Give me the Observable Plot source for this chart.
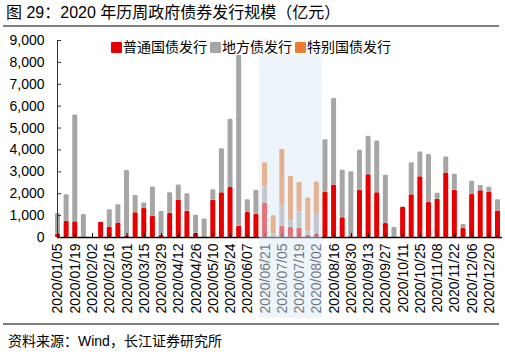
<!DOCTYPE html>
<html><head><meta charset="utf-8">
<script src="https://cdn.jsdelivr.net/npm/d3@7"></script>
<script src="https://cdn.jsdelivr.net/npm/@observablehq/plot@0.6"></script>
<style>
body{margin:0;background:#fff;}
#wrap{position:relative;width:505px;height:363px;overflow:hidden;background:#fff;font-family:"Liberation Sans",Arial,"Noto Sans CJK SC",sans-serif;color:#000;}
#title{position:absolute;left:6px;top:3px;font-size:16px;line-height:20px;white-space:nowrap;}
.rule{position:absolute;left:3px;width:496px;height:2px;background:#7f7f7f;}
#chart{position:absolute;left:0;top:30px;}
#legend{position:absolute;left:111px;top:39px;display:flex;align-items:center;font-size:14px;line-height:16px;white-space:nowrap;}
#legend .item{display:flex;align-items:center;margin-right:3px;}
#legend .sw{width:11px;height:11px;margin-right:1px;border-radius:1px;}
#source{position:absolute;left:8px;top:332px;font-size:14px;line-height:18px;white-space:nowrap;}
</style></head><body>
<div id="wrap">
  <div id="title">图 29：2020 年历周政府债券发行规模（亿元）</div>
  <div class="rule" style="top:25px"></div>
  <div id="chart"></div>
  <div id="legend"></div>
  <div class="rule" style="top:323px"></div>
  <div id="source">资料来源：Wind，长江证券研究所</div>
</div>
<script>
const weeks = ["2020/01/05","2020/01/12","2020/01/19","2020/01/26","2020/02/02","2020/02/09","2020/02/16","2020/02/23",
  "2020/03/01","2020/03/08","2020/03/15","2020/03/22","2020/03/29","2020/04/05","2020/04/12","2020/04/19","2020/04/26",
  "2020/05/03","2020/05/10","2020/05/17","2020/05/24","2020/05/31","2020/06/07","2020/06/14","2020/06/21","2020/06/28",
  "2020/07/05","2020/07/12","2020/07/19","2020/07/26","2020/08/02","2020/08/09","2020/08/16","2020/08/23","2020/08/30",
  "2020/09/06","2020/09/13","2020/09/20","2020/09/27","2020/10/04","2020/10/11","2020/10/18","2020/10/25","2020/11/01",
  "2020/11/08","2020/11/15","2020/11/22","2020/11/29","2020/12/06","2020/12/13","2020/12/20","2020/12/27"];
// 普通国债发行
const treasury = [150,740,720,0,0,700,480,660,50,1130,1330,965,100,1110,1715,1200,180,
  0,1700,2050,2280,515,1140,1060,1580,0,515,460,410,100,150,2080,2400,900,30,
  2160,2870,2040,640,0,1385,1955,2770,1600,1750,2950,2160,410,1960,2140,2080,1215];
// 地方债发行
const local = [950,1210,4880,1050,0,0,790,840,3010,790,245,1340,1085,935,680,800,840,
  850,480,2000,3120,7805,590,1100,730,150,960,300,760,160,900,2390,3950,2170,2970,
  1830,1760,2370,2200,455,0,1460,1140,2190,270,730,730,180,610,230,220,515];
// 特别国债发行
const special = [0,0,0,0,0,0,0,0,0,0,0,0,0,0,0,0,0,
  0,0,0,0,0,0,0,1110,840,2545,2040,1340,1550,1490,0,0,0,0,
  0,0,0,0,0,0,0,0,0,0,0,0,0,0,0,0,0];
const seriesNames = ["普通国债发行","地方债发行","特别国债发行"];
const seriesColors = ["#e60000","#a6a6a6","#ed7d31"];
const yTicks = [0,1000,2000,3000,4000,5000,6000,7000,8000,9000];
const xTickLabels = weeks.filter((d, i) => i % 2 === 0);
// highlighted span (special treasury issuance period)
const shade = [{from: "2020/06/21", to: "2020/08/02", top: 8320, bottom: -3690}];

const seriesValues = [treasury, local, special];
const rows = [];
weeks.forEach((w, i) => seriesNames.forEach((s, k) => rows.push({week: w, series: s, value: seriesValues[k][i]})));

const W = 505, H = 290;
const firstCenter = 57.5, lastCenter = 497.5;
const step = (lastCenter - firstCenter) / (weeks.length - 1);
const font = '"Liberation Sans", Arial, "Noto Sans CJK SC", sans-serif';

const chart = Plot.plot({
  width: W, height: H,
  marginTop: 10, marginBottom: 83, marginLeft: 57, marginRight: 3,
  style: {fontSize: "14px", fontFamily: font, background: "transparent", color: "#000"},
  x: {type: "band", domain: weeks, range: [firstCenter - step / 2, lastCenter + step / 2], paddingInner: 0.42, paddingOuter: 0.21, label: null},
  y: {domain: [0, 9000], label: null},
  color: {domain: seriesNames, range: seriesColors},
  marks: [
    Plot.barY(rows, Plot.stackY({order: seriesNames}, {x: "week", y: "value", fill: "series", rx: 1.2})),
    Plot.ruleY([0], {stroke: "#000", strokeWidth: 1.5}),
    Plot.frame({anchor: "left", stroke: "#333"}),
    Plot.axisY({ticks: yTicks, tickSize: -4, tickPadding: 17, tickFormat: d3.format(","), label: null, stroke: "#333"}),
    Plot.axisX({ticks: xTickLabels, tickSize: -4, tickPadding: 10, tickRotate: -90, label: null}),
    Plot.rect(shade, {x1: "from", x2: "to", y1: "bottom", y2: "top", fill: "#dce9f5", fillOpacity: 0.5, insetLeft: -3, insetRight: -3})
  ]
});
document.getElementById("chart").appendChild(chart);

const legend = document.getElementById("legend");
seriesNames.forEach((s, k) => {
  const item = document.createElement("div");
  item.className = "item";
  const sw = document.createElement("span");
  sw.className = "sw";
  sw.style.background = seriesColors[k];
  const t = document.createElement("span");
  t.textContent = s;
  item.appendChild(sw); item.appendChild(t);
  legend.appendChild(item);
});
</script>
</body></html>
